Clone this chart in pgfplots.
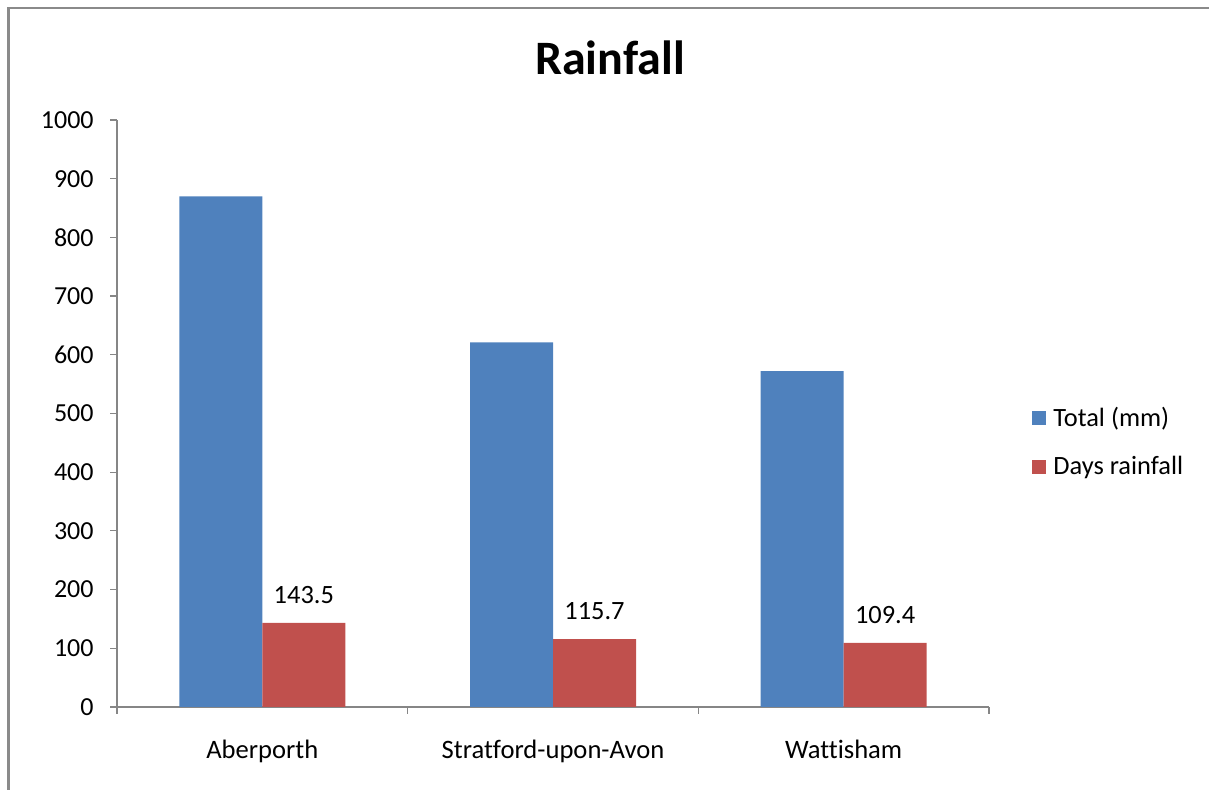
\documentclass[border=0pt]{standalone}
\usepackage{pgfplots}
\pgfplotsset{compat=1.18}
\usepackage{fontspec}
\setmainfont{Carlito}[Ligatures=NoCommon]
\definecolor{barblue}{HTML}{4F81BD}
\definecolor{barred}{HTML}{C0504D}
\definecolor{axgray}{HTML}{868686}
\definecolor{framegray}{HTML}{8A8A8A}
\pgfplotstableread{
x total days
0 870 143.5
1 621 115.7
2 572 109.4
}\rain
\begin{document}
\begin{tikzpicture}
\useasboundingbox (0pt,0pt) rectangle (604.5pt,395pt);
\draw[framegray, line width=1.3pt] (4.35pt,0pt) -- (4.35pt,391pt) -- (604.5pt,391pt);
\begin{axis}[
  at={(58.5pt,41.5pt)}, anchor=south west,
  scale only axis, width=436pt, height=293.5pt,
  xmin=-0.5, xmax=2.5, ymin=0, ymax=1000,
  ybar=0pt, bar width=41.5pt,
  axis x line*=bottom, axis y line*=left,
  axis line style={axgray, line width=0.6pt},
  tick align=outside,
  major tick length=3.5pt, minor tick length=3.5pt,
  tick style={axgray, line width=0.6pt},
  ytick={0,100,...,1000},
  xtick={0,1,2},
  xticklabels={Aberporth, Stratford-upon-Avon, Wattisham},
  minor xtick={-0.5,0.5,1.5,2.5},
  every major x tick/.append style={draw=none},
  yticklabel style={font=\fontsize{13}{15}\selectfont, anchor=east, inner sep=0pt, xshift=-8pt,
    /pgf/number format/set thousands separator={}},
  xticklabel style={font=\fontsize{13.3}{15}\selectfont, anchor=north, inner sep=0pt, yshift=-13pt},
  /pgf/number format/assume math mode=true,
  title={Rainfall},
  title style={font=\bfseries\fontsize{24}{28}\selectfont, at={(0.5654,1.0563)}, anchor=base, inner sep=0pt},
  legend style={draw=none, fill=none, at={(1.0493,0.4514)}, anchor=west,
    inner sep=0pt, row sep=13.5pt, column sep=3.5pt,
    nodes={inner sep=0pt, anchor=west}, font=\fontsize{13.2}{15}\selectfont},
  legend cell align=left,
  clip=false,
]
\addplot[fill=barblue, draw=none,
  legend image code/.code={\fill[barblue] (0pt,-3.5pt) rectangle (7pt,3.5pt);}]
  table[x=x, y=total] {\rain};
\addlegendentry{Total (mm)}
\addplot[fill=barred, draw=none,
  nodes near coords, point meta=explicit symbolic,
  every node near coord/.append style={font=\fontsize{13.2}{15}\selectfont, text=black, inner sep=0pt, yshift=9.5pt},
  legend image code/.code={\fill[barred] (0pt,-3.5pt) rectangle (7pt,3.5pt);}]
  table[x=x, y=days, meta=days] {\rain};
\addlegendentry{Days rainfall}
\end{axis}
\end{tikzpicture}
\end{document}
